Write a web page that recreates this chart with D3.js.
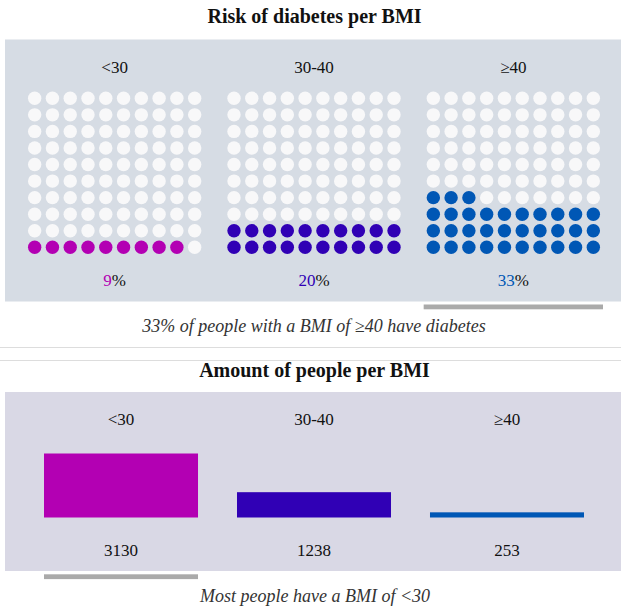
<!DOCTYPE html>
<html>
<head>
<meta charset="utf-8">
<script src="https://cdn.jsdelivr.net/npm/d3@7"></script>
<style>
  html, body { margin: 0; padding: 0; background: #ffffff; }
  svg { display: block; }
</style>
</head>
<body>
<svg id="chart" width="621" height="610"></svg>
<script>
// BMI groups shared by both panels
const categories = ["<30", "30-40", "\u226540"];
// Share of people with diabetes in each group, percent
const diabetesPct = [9, 20, 33];
// Number of people in each group
const peopleCount = [3130, 1238, 253];
const groupColors = ["#b300b3", "#3000b5", "#0057b5"];

const FONT = "'Liberation Serif', 'Times New Roman', Times, serif";
const svg = d3.select("#chart")
  .attr("font-family", FONT)
  .style("font-family", FONT);
const W = 621;

function label(x, y, size, txt) {
  return svg.append("text")
    .attr("x", x).attr("y", y)
    .attr("text-anchor", "middle")
    .attr("font-family", FONT)
    .attr("font-size", size)
    .attr("fill", "#111")
    .text(txt);
}

// ---------- Panel 1: waffle of diabetes risk ----------
label(314.5, 23, 20, "Risk of diabetes per BMI").attr("font-weight", "bold");

svg.append("rect")
  .attr("x", 5).attr("y", 39.5)
  .attr("width", W - 5).attr("height", 262)
  .attr("fill", "#d6dce4");

const bandTop = d3.scaleBand().domain(categories).range([15, 613]);
const cols = d3.range(10);
const rows = d3.range(10);
const yRow = d3.scalePoint().domain(rows).range([247.3, 98.3]); // row 0 at bottom

categories.forEach((cat, i) => {
  const cx = bandTop(cat) + bandTop.bandwidth() / 2;
  const xCol = d3.scalePoint().domain(cols).range([cx - 80, cx + 80]);
  const cells = d3.range(100).map(k => ({ r: Math.floor(k / 10), c: k % 10, on: k < diabetesPct[i] }));
  svg.append("g").selectAll("circle").data(cells).join("circle")
    .attr("cx", d => xCol(d.c))
    .attr("cy", d => yRow(d.r))
    .attr("r", 6.7)
    .attr("fill", d => d.on ? groupColors[i] : "#f8f8f9");

  label(cx, 72.5, 17, cat);

  const pct = label(cx, 286, 17, null);
  pct.append("tspan").attr("fill", groupColors[i]).text(diabetesPct[i]);
  pct.append("tspan").text("%");
});

// highlight bar under the highest-risk group
const hiIdx = diabetesPct.indexOf(d3.max(diabetesPct));
svg.append("rect")
  .attr("x", bandTop(categories[hiIdx]) + 10)
  .attr("y", 304.5)
  .attr("width", bandTop.bandwidth() - 20)
  .attr("height", 4.8)
  .attr("fill", "#aaaaaa");

label(314, 332, 18, `${diabetesPct[hiIdx]}% of people with a BMI of ${categories[hiIdx]} have diabetes`)
  .attr("font-style", "italic").attr("fill", "#333");

// separator lines
[347, 360].forEach(y => {
  svg.append("line")
    .attr("x1", 0).attr("x2", W)
    .attr("y1", y + 0.5).attr("y2", y + 0.5)
    .attr("stroke", "#dddddd").attr("stroke-width", 1);
});

// ---------- Panel 2: bar chart of people per group ----------
label(314.5, 377, 20, "Amount of people per BMI").attr("font-weight", "bold");

svg.append("rect")
  .attr("x", 5).attr("y", 392)
  .attr("width", W - 5).attr("height", 179)
  .attr("fill", "#d9d8e5");

const bandBot = d3.scaleBand().domain(categories).range([44, 584]).paddingInner(0.202);
const yBar = d3.scaleLinear().domain([0, d3.max(peopleCount)]).range([517.5, 453.5]);

svg.append("g").selectAll("rect").data(categories).join("rect")
  .attr("x", d => bandBot(d))
  .attr("y", (d, i) => yBar(peopleCount[i]))
  .attr("width", bandBot.bandwidth())
  .attr("height", (d, i) => yBar(0) - yBar(peopleCount[i]))
  .attr("fill", (d, i) => groupColors[i]);

categories.forEach((cat, i) => {
  const cx = bandBot(cat) + bandBot.bandwidth() / 2;
  label(cx, 425, 17, cat);
  label(cx, 556, 17, peopleCount[i]);
});

const maxIdx = peopleCount.indexOf(d3.max(peopleCount));
svg.append("rect")
  .attr("x", bandBot(categories[maxIdx]))
  .attr("y", 574.3)
  .attr("width", bandBot.bandwidth())
  .attr("height", 4.8)
  .attr("fill", "#aaaaaa");

label(315, 602, 18, `Most people have a BMI of ${categories[maxIdx]}`)
  .attr("font-style", "italic").attr("fill", "#333");
</script>
</body>
</html>
